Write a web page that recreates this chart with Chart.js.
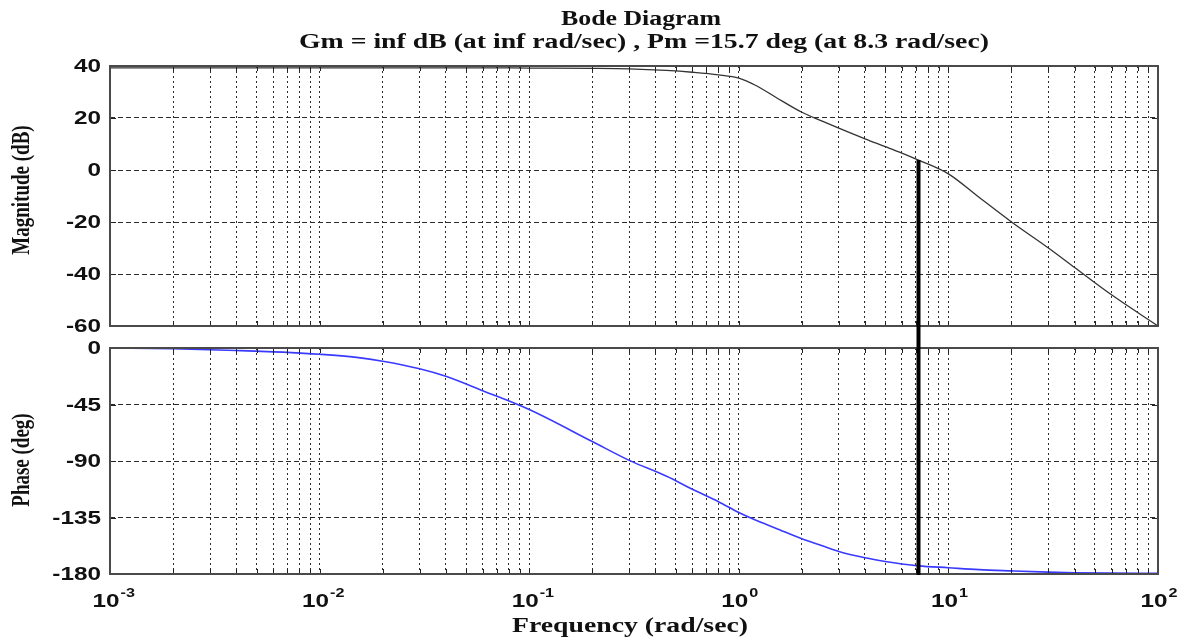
<!DOCTYPE html>
<html>
<head>
<meta charset="utf-8">
<script src="https://cdn.jsdelivr.net/npm/chart.js@4.4.0/dist/chart.umd.min.js"></script>
<style>
  html, body { margin: 0; padding: 0; background: #fff; }
  #wrap { position: relative; width: 1184px; height: 639px; overflow: hidden; }
  canvas { position: absolute; left: 0; }
</style>
</head>
<body>
<div id="wrap">
  <canvas id="magChart" width="1184" height="337" style="top:0px"></canvas>
  <canvas id="phaseChart" width="1184" height="302" style="top:337px"></canvas>
</div>
<script>
// values
var freq     = [0.001, 0.002, 0.004, 0.007, 0.01, 0.015, 0.02, 0.03, 0.04, 0.06, 0.1, 0.2, 0.3, 0.45, 0.6, 0.8, 1, 1.2, 1.5, 2, 2.5, 3, 4, 5, 6, 7.2, 10, 14, 20, 30, 40, 60, 100];
var magDb    = [39.3, 39.3, 39.3, 39.3, 39.3, 39.3, 39.3, 39.3, 39.3, 39.3, 39.2, 39.1, 38.9, 38.3, 37.6, 36.6, 35.3, 32.6, 28, 22.2, 18.8, 16.1, 12, 9, 6.5, 3.8, -1.5, -10.5, -20, -30, -37.5, -48, -60];
var phaseDeg = [0, -0.6, -2, -3.5, -5, -7.5, -10.5, -16.5, -22.5, -34, -49, -74.5, -89.5, -102, -112.5, -122.5, -131, -137, -143.5, -152, -157.5, -162, -167, -170, -172, -173.5, -175, -176.5, -177.5, -178.5, -179, -179.3, -179.5];

var xTickExp   = [-3, -2, -1, 0, 1, 2];
var magTicks   = [40, 20, 0, -20, -40, -60];
var phaseTicks = [0, -45, -90, -135, -180];
var pmFreq = 7.2;   // where the black marker sits

var titleLines = ['Bode Diagram', 'Gm = inf dB (at inf rad/sec) , Pm =15.7 deg (at 8.3 rad/sec)'];

// minor grid 1..9 per decade
var xGrid = [];
for (var d = 0; d < xTickExp.length - 1; d++) {
    for (var m = 1; m <= 9; m++) {
        xGrid.push(Number((m * Math.pow(10, xTickExp[d])).toPrecision(3)));
    }
}
xGrid.push(Math.pow(10, xTickExp[xTickExp.length - 1]));

var SX = 1.35; // the picture is stretched sideways
var INK = '#111';

function wideText(ctx, text, x, y, font, align, fitW) {
    ctx.save();
    ctx.font = font;
    var raw = ctx.measureText(text).width;
    var sx = fitW ? fitW / raw : SX;
    var w = raw * sx;
    var x0 = align === 'center' ? x - w / 2 : (align === 'right' ? x - w : x);
    ctx.translate(x0, y);
    ctx.scale(sx, 1);
    ctx.textAlign = 'left';
    ctx.textBaseline = 'alphabetic';
    ctx.fillStyle = INK;
    ctx.fillText(text, 0, 0);
    ctx.restore();
    return w;
}

function vertText(ctx, text, cx, cy, font) {
    ctx.save();
    ctx.font = font;
    ctx.translate(cx, cy);
    ctx.scale(SX, 1);
    ctx.rotate(-Math.PI / 2);
    ctx.textAlign = 'center';
    ctx.textBaseline = 'middle';
    ctx.fillStyle = INK;
    ctx.fillText(text, 0, 0);
    ctx.restore();
}

function frameAndTicks(chart, yTicks) {
    var ctx = chart.ctx, a = chart.chartArea;
    var xs = chart.scales.x, ys = chart.scales.y;
    ctx.save();
    ctx.strokeStyle = '#222';
    ctx.lineWidth = 1;
    ctx.setLineDash([]);
    ctx.beginPath();
    xGrid.forEach(function (v) {
        var px = Math.round(xs.getPixelForValue(v)) + 0.5;
        ctx.moveTo(px, a.top); ctx.lineTo(px, a.top + 5);
        ctx.moveTo(px, a.bottom); ctx.lineTo(px, a.bottom - 5);
    });
    yTicks.forEach(function (v) {
        var py = Math.round(ys.getPixelForValue(v)) + 0.5;
        ctx.moveTo(a.left, py); ctx.lineTo(a.left + 6, py);
        ctx.moveTo(a.right, py); ctx.lineTo(a.right - 6, py);
    });
    ctx.stroke();
    ctx.strokeStyle = '#4a4a4a';
    ctx.lineWidth = 2;
    ctx.strokeRect(a.left, a.top, a.right - a.left, a.bottom - a.top);
    ctx.restore();
}

function yLabels(chart, yTicks) {
    var ys = chart.scales.y;
    yTicks.forEach(function (v) {
        wideText(chart.ctx, String(v), 101, ys.getPixelForValue(v) + 6, 'bold 18px "Liberation Sans"', 'right');
    });
}

function scalesFor(yTicks) {
    return {
        x: {
            type: 'logarithmic',
            min: Math.pow(10, xTickExp[0]),
            max: Math.pow(10, xTickExp[xTickExp.length - 1]),
            afterBuildTicks: function (s) { s.ticks = xGrid.map(function (v) { return { value: v }; }); },
            afterFit: function (s) { s.height = 0; },
            ticks: { display: false },
            grid: { color: '#2a2a2a', lineWidth: 1, drawTicks: false },
            border: { display: false, dash: [2, 3] }
        },
        y: {
            min: yTicks[yTicks.length - 1],
            max: yTicks[0],
            afterBuildTicks: function (s) { s.ticks = yTicks.map(function (v) { return { value: v }; }); },
            afterFit: function (s) { s.width = 110; },
            ticks: { display: false },
            grid: { color: '#2a2a2a', lineWidth: 1, drawTicks: false },
            border: { display: false, dash: [5, 3] }
        }
    };
}

var pmIndex = freq.indexOf(pmFreq);

// magnitude
new Chart(document.getElementById('magChart'), {
    type: 'line',
    data: {
        datasets: [{
            data: freq.map(function (f, i) { return { x: f, y: magDb[i] }; }),
            borderColor: '#333',
            borderWidth: 1.3,
            pointRadius: 0,
            cubicInterpolationMode: 'monotone',
            fill: false
        }]
    },
    options: {
        responsive: false,
        devicePixelRatio: 1,
        animation: false,
        layout: { padding: { top: 66, right: 26, bottom: 11, left: 0 } },
        scales: scalesFor(magTicks),
        plugins: { legend: { display: false }, tooltip: { enabled: false } }
    },
    plugins: [{
        id: 'magDeco',
        afterDraw: function (chart) {
            var ctx = chart.ctx;
            frameAndTicks(chart, magTicks);
            // marker
            var px = chart.scales.x.getPixelForValue(pmFreq);
            ctx.save();
            ctx.strokeStyle = '#000';
            ctx.lineWidth = 4;
            ctx.beginPath();
            ctx.moveTo(px, chart.scales.y.getPixelForValue(magDb[pmIndex]));
            ctx.lineTo(px, chart.height);
            ctx.stroke();
            ctx.restore();
            yLabels(chart, magTicks);
            wideText(ctx, titleLines[0], 641, 25, 'bold 20px "Liberation Serif"', 'center', 160);
            wideText(ctx, titleLines[1], 644, 48, 'bold 20px "Liberation Serif"', 'center', 690);
            vertText(ctx, 'Magnitude (dB)', 22, 190, 'bold 19px "Liberation Serif"');
        }
    }]
});

// phase
new Chart(document.getElementById('phaseChart'), {
    type: 'line',
    data: {
        datasets: [{
            data: freq.map(function (f, i) { return { x: f, y: phaseDeg[i] }; }),
            borderColor: '#3a3aff',
            borderWidth: 1.6,
            pointRadius: 0,
            cubicInterpolationMode: 'monotone',
            fill: false
        }]
    },
    options: {
        responsive: false,
        devicePixelRatio: 1,
        animation: false,
        layout: { padding: { top: 11, right: 26, bottom: 65, left: 0 } },
        scales: scalesFor(phaseTicks),
        plugins: { legend: { display: false }, tooltip: { enabled: false } }
    },
    plugins: [{
        id: 'phaseDeco',
        afterDraw: function (chart) {
            var ctx = chart.ctx, xs = chart.scales.x;
            frameAndTicks(chart, phaseTicks);
            var px = xs.getPixelForValue(pmFreq);
            ctx.save();
            ctx.strokeStyle = '#000';
            ctx.lineWidth = 4;
            ctx.beginPath();
            ctx.moveTo(px, 0);
            ctx.lineTo(px, chart.chartArea.bottom + 1);
            ctx.stroke();
            ctx.restore();
            yLabels(chart, phaseTicks);
            vertText(ctx, 'Phase (deg)', 22, 123, 'bold 19px "Liberation Serif"');
            // 10^n labels
            xTickExp.forEach(function (e) {
                var tx = xs.getPixelForValue(Math.pow(10, e)) - 4;
                var w = wideText(ctx, '10', tx, 270, 'bold 18px "Liberation Sans"', 'center');
                wideText(ctx, String(e), tx + w / 2 + 1, 260, 'bold 12px "Liberation Sans"', 'left');
            });
            wideText(ctx, 'Frequency (rad/sec)', 630, 295, 'bold 20px "Liberation Serif"', 'center', 236);
        }
    }]
});
</script>
</body>
</html>
